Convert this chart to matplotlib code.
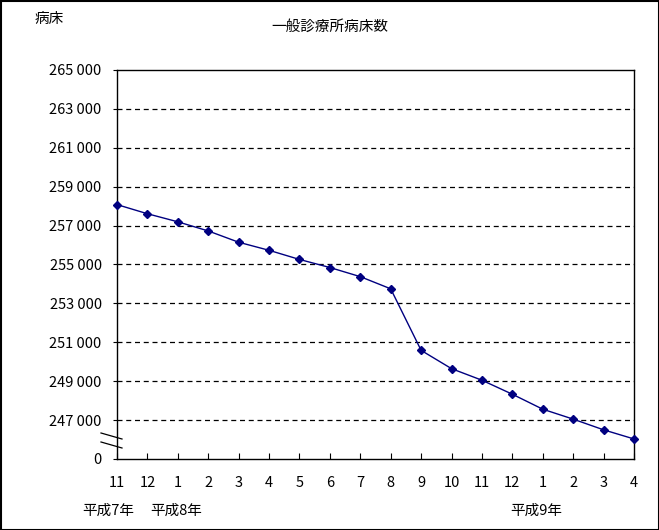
import matplotlib
matplotlib.use("Agg")
import matplotlib.pyplot as plt
from matplotlib.lines import Line2D

plt.rcParams['font.family'] = ['Noto Sans CJK JP', 'DejaVu Sans']

months = ["11", "12", "1", "2", "3", "4", "5", "6", "7", "8", "9", "10", "11", "12", "1", "2", "3", "4"]
beds = [258080, 257610, 257195, 256725, 256145, 255730, 255260, 254845, 254375, 253750,
        250585, 249645, 249050, 248330, 247560, 247050, 246500, 246030]
ytick_values = [245000, 247000, 249000, 251000, 253000, 255000, 257000, 259000, 261000, 263000, 265000]
ytick_labels = ["0", "247 000", "249 000", "251 000", "253 000", "255 000", "257 000",
                "259 000", "261 000", "263 000", "265 000"]
year_labels = [("平成7年", 0), ("平成8年", 2), ("平成9年", 14)]
title = "一般診療所病床数"
ylabel = "病床"

FS = 10.5

fig = plt.figure(figsize=(6.59, 5.30), dpi=100)
ax = fig.add_axes([117/659, 1-459/530, (634-117)/659, (459-70)/530])

x = list(range(len(months)))
ax.plot(x, beds, color="#000080", lw=1.0, marker="D", ms=4.5, mfc="#000080", mec="#000080", clip_on=False, zorder=3)

ax.set_xlim(0, len(months)-1)
ax.set_ylim(245000, 265000)
ax.set_yticks(ytick_values)
ax.set_yticklabels(ytick_labels, fontsize=FS)
ax.set_xticks(x)
ax.set_xticklabels(months, fontsize=FS)
ax.tick_params(axis='x', direction='in', length=4, pad=12)
ax.tick_params(axis='y', direction='out', length=3, pad=8)

for v in ytick_values[1:-1]:
    ax.axhline(v, color="black", lw=0.9, ls=(0, (4, 3)), zorder=1)

for s in ax.spines.values():
    s.set_linewidth(1.0)
    s.set_color("black")

# axis break marks
fig.add_artist(Line2D([101/659, 122/659], [1-433/530, 1-439/530], color="black", lw=0.9))
fig.add_artist(Line2D([101/659, 122/659], [1-442/530, 1-448/530], color="black", lw=0.9))

offsets = {0: -6, 2: -1, 14: -5}
for lab, i in year_labels:
    ax.annotate(lab, xy=(i, 0), xycoords=('data', 'axes fraction'), xytext=(offsets[i], -37),
                textcoords='offset points', ha='center', va='center', fontsize=FS, annotation_clip=False)

fig.text(330/659, 1-27/530, title, ha='center', va='center', fontsize=FS)
fig.text(49/659, 1-19/530, ylabel, ha='center', va='center', fontsize=FS)

fig.add_artist(plt.Rectangle((0.5/659, 0.5/530), 1-1/659, 1-1/530, fill=False, ec="black", lw=1.5, transform=fig.transFigure))

fig.savefig("out.png", dpi=100)
